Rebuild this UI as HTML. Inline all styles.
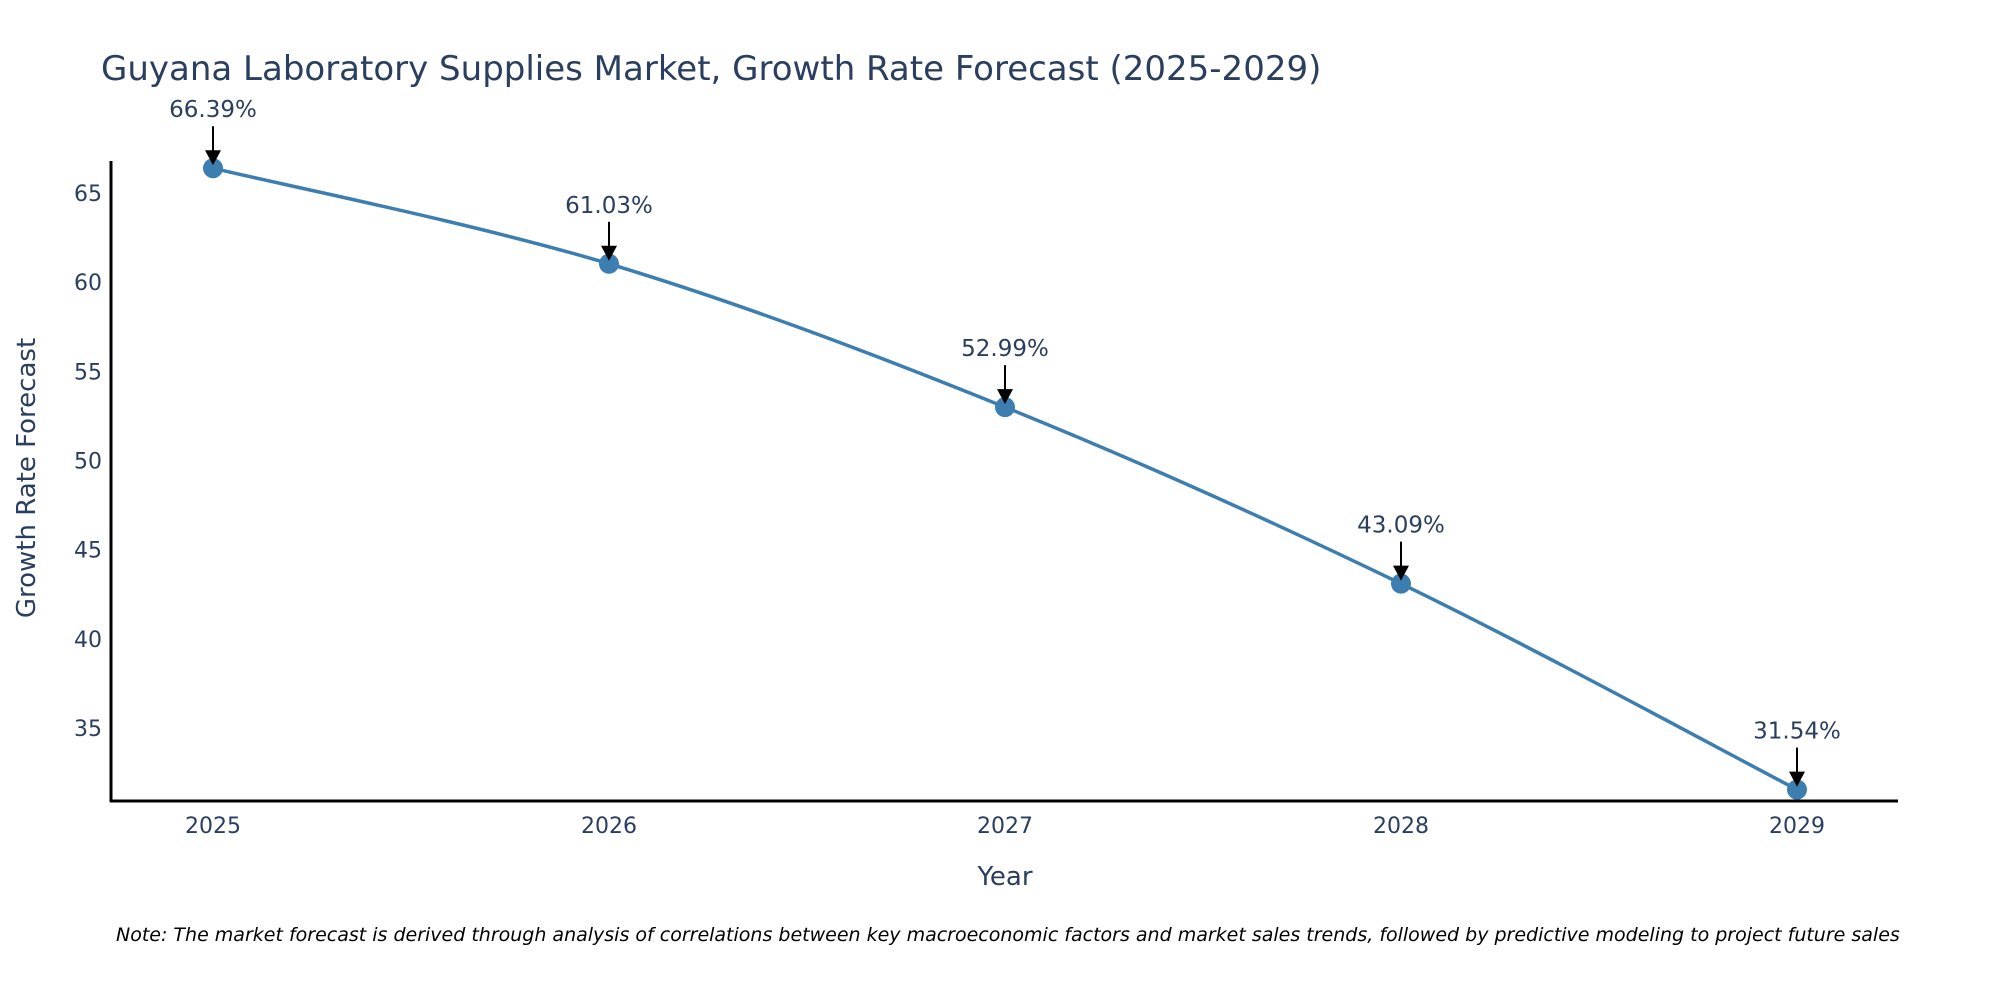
<!DOCTYPE html>
<html><head><meta charset="utf-8"><style>
html,body{margin:0;padding:0;background:#fff;}
svg{display:block;font-family:"DejaVu Sans","Liberation Sans",sans-serif;}
</style></head><body>
<svg id="chart" width="2000" height="1000" viewBox="0 0 2000 1000">
<text x="101" y="80" font-size="34" fill="#2a3f5f">Guyana Laboratory Supplies Market, Growth Rate Forecast (2025-2029)</text>
<g id="yticks"></g>
<g id="xticks"></g>
<line x1="111" y1="161" x2="111" y2="802" stroke="#000" stroke-width="3"/>
<line x1="110" y1="801" x2="1898" y2="801" stroke="#000" stroke-width="3"/>
<g id="series"></g>
<g id="annots"></g>
<text x="1005" y="885" font-size="26" fill="#2a3f5f" text-anchor="middle">Year</text>
<text transform="translate(35,478) rotate(-90)" font-size="26" fill="#2a3f5f" text-anchor="middle">Growth Rate Forecast</text>
<text x="116" y="941" font-size="19" font-style="italic" fill="#000">Note: The market forecast is derived through analysis of correlations between key macroeconomic factors and market sales trends, followed by predictive modeling to project future sales</text>
</svg>
<script>
const years = ["2025","2026","2027","2028","2029"];
const growth = [66.39, 61.03, 52.99, 43.09, 31.54];
const yTicks = [35, 40, 45, 50, 55, 60, 65];
const NS = "http://www.w3.org/2000/svg";
function xScale(i){ return 213 + i * 396; }
function yScale(v){ return 193 + (65 - v) * 17.83; }
function mk(tag, attrs, parent){ const e=document.createElementNS(NS,tag); for(const k in attrs) e.setAttribute(k,attrs[k]); parent.appendChild(e); return e; }
const yt=document.getElementById('yticks'), xt=document.getElementById('xticks'), se=document.getElementById('series'), an=document.getElementById('annots');
yTicks.forEach(v=>{
  const t=mk('text',{x:102,y:yScale(v)+8,'font-size':22,fill:'#2a3f5f','text-anchor':'end'},yt);
  t.textContent=v;
  
  
});
years.forEach((y,i)=>{
  const t=mk('text',{x:xScale(i),y:833,'font-size':22,fill:'#2a3f5f','text-anchor':'middle'},xt);
  t.textContent=y;
  
  
});
const pts=growth.map((v,i)=>[xScale(i),yScale(v)]);
let d='M'+pts[0][0]+','+pts[0][1];
for(let i=0;i<pts.length-1;i++){
  const p0=pts[Math.max(0,i-1)],p1=pts[i],p2=pts[i+1],p3=pts[Math.min(pts.length-1,i+2)];
  const c1=[p1[0]+(p2[0]-p0[0])/6,p1[1]+(p2[1]-p0[1])/6];
  const c2=[p2[0]-(p3[0]-p1[0])/6,p2[1]-(p3[1]-p1[1])/6];
  d+=' C'+c1+' '+c2+' '+p2;
}
const line=mk('path',{d:d,fill:'none',stroke:'#3d7eb0','stroke-width':3.5},se);


pts.forEach((p,i)=>{
  const c=mk('circle',{cx:p[0],cy:p[1],r:10,fill:'#3d7eb0'},se);
  
  
  const l=mk('line',{x1:p[0],y1:p[1]-42,x2:p[0],y2:p[1]-16,stroke:'#000','stroke-width':2},an);
  
  
  const h=mk('polygon',{points:(p[0]-8)+','+(p[1]-18)+' '+(p[0]+8)+','+(p[1]-18)+' '+p[0]+','+(p[1]-3),fill:'#000'},an);
  
  
  const t=mk('text',{x:p[0],y:p[1]-51,'font-size':23,fill:'#2a3f5f','text-anchor':'middle'},an);
  t.textContent=growth[i].toFixed(2)+'%';
  
  
});
</script>
</body></html>
